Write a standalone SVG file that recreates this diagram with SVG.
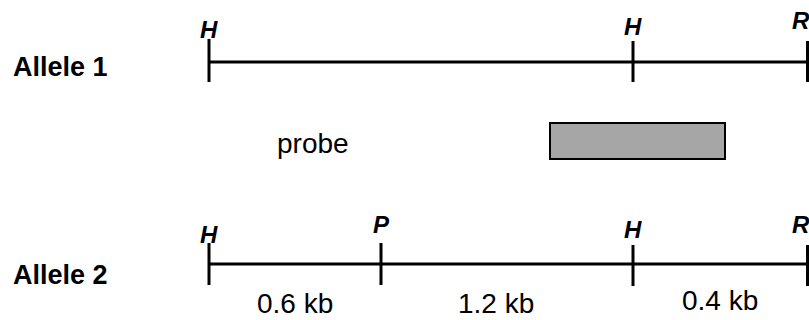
<svg xmlns="http://www.w3.org/2000/svg" width="809" height="320" viewBox="0 0 809 320">
<style>
.bg{fill:#fff}
.ln{stroke:#000;stroke-width:3;fill:none}
.site{font-family:"Liberation Sans",Arial,sans-serif;font-weight:bold;font-style:italic;font-size:24px;fill:#000}
.lab{font-family:"Liberation Sans",Arial,sans-serif;font-weight:bold;font-size:27px;fill:#000}
.txt{font-family:"Liberation Sans",Arial,sans-serif;font-size:28px;fill:#000}
</style>
<rect class="bg" x="0" y="0" width="809" height="320"/>
<g id="allele1">
<text class="lab" x="13" y="76">Allele 1</text>
<line class="ln" x1="209" y1="62" x2="809" y2="62"/>
<line class="ln" x1="209" y1="39" x2="209" y2="82"/>
<line class="ln" x1="633" y1="41" x2="633" y2="82"/>
<line class="ln" x1="807.5" y1="41" x2="807.5" y2="82"/>
<text class="site" x="200" y="38">H</text>
<text class="site" x="624" y="35">H</text>
<text class="site" x="792" y="29">R</text>
</g>
<g id="probe">
<text class="txt" x="277" y="153">probe</text>
<rect x="550" y="123" width="175" height="36" fill="#a6a6a6" stroke="#000" stroke-width="2"/>
</g>
<g id="allele2">
<text class="lab" x="13" y="284">Allele 2</text>
<line class="ln" x1="209" y1="264" x2="809" y2="264"/>
<line class="ln" x1="209" y1="243" x2="209" y2="285"/>
<line class="ln" x1="381" y1="243" x2="381" y2="285"/>
<line class="ln" x1="633" y1="245" x2="633" y2="286"/>
<line class="ln" x1="807.5" y1="245" x2="807.5" y2="286"/>
<text class="site" x="200" y="243">H</text>
<text class="site" x="373" y="233">P</text>
<text class="site" x="624" y="238">H</text>
<text class="site" x="792" y="233">R</text>
<text class="txt" x="257" y="313">0.6 kb</text>
<text class="txt" x="458" y="313">1.2 kb</text>
<text class="txt" x="682" y="310">0.4 kb</text>
</g>
</svg>
